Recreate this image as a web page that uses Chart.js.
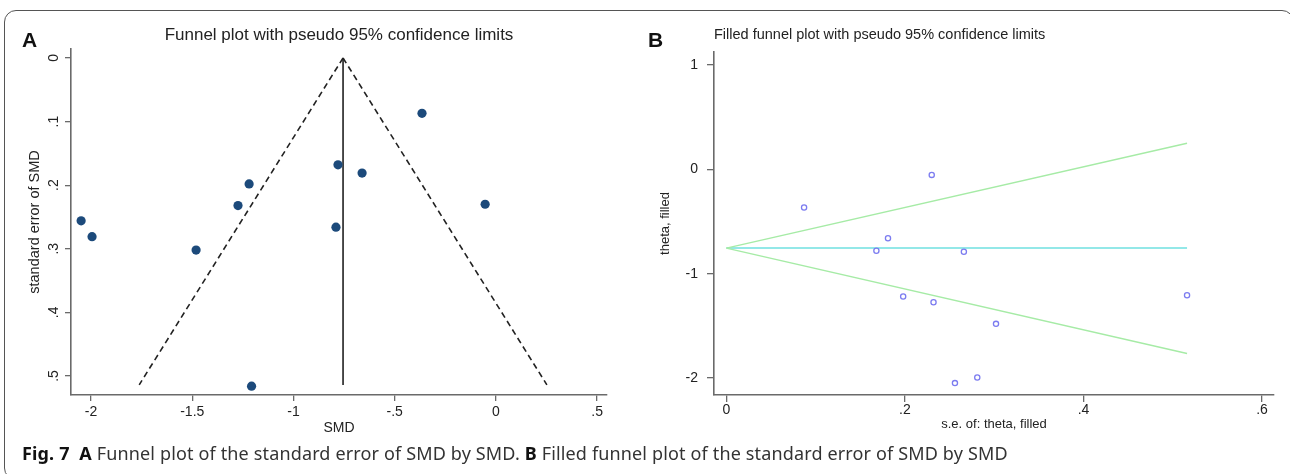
<!DOCTYPE html>
<html>
<head>
<meta charset="utf-8">
<script src="https://cdn.jsdelivr.net/npm/chart.js@4.4.0/dist/chart.umd.min.js"></script>
<style>
  body { margin: 0; background: #fff; width: 1290px; height: 474px; overflow: hidden; position: relative; font-family: "Liberation Sans", Arial, sans-serif; }
  #frame { position: absolute; left: 4px; top: 10px; width: 1290px; height: 470px; border: 1.5px solid #555; border-radius: 12px; box-sizing: border-box; }
  .wrap { position: absolute; top: 0; height: 474px; }
  #wa { left: 0; width: 640px; }
  #wb { left: 640px; width: 650px; }
  .tag { position: absolute; font-weight: bold; font-size: 21px; line-height: 21px; color: #111; }
  #caption { position: absolute; left: 22px; top: 441px; font-family: "Noto Sans"; font-size: 18px; line-height: 24px; color: #333; white-space: nowrap; letter-spacing: 0.15px; }
  #caption b { color: #111; }
</style>
</head>
<body>
<div id="frame"></div>
<div class="wrap" id="wa"><canvas id="chartA" width="640" height="474"></canvas></div>
<div class="wrap" id="wb"><canvas id="chartB" width="650" height="474"></canvas></div>
<div class="tag" style="left:22px;top:29px">A</div>
<div class="tag" style="left:648px;top:29px">B</div>
<div id="caption"><b>Fig. 7</b>&nbsp; <b>A</b> Funnel plot of the standard error of SMD by SMD. <b>B</b> Filled funnel plot of the standard error of SMD by SMD</div>
<script>
// study estimates
const smd   = [-0.365, -0.780, -0.661, -1.219, -1.274, -0.053, -2.049, -1.995, -0.790, -1.481, -1.207];
const seSmd = [0.087, 0.168, 0.181, 0.198, 0.232, 0.230, 0.256, 0.281, 0.266, 0.302, 0.516];

// panel A pseudo 95% limits
const pooled = -0.755;
const limitSe = [0, 0.514];
const lowerLimit = [-0.755, -1.762];
const upperLimit = [-0.755, 0.252];

// panel B filled funnel lines
const fillSe = [0, 0.516];
const fillUpper = [-0.755, 0.25];
const fillLower = [-0.755, -1.765];
const fillMid = [-0.755, -0.755];

// tick labels
const smdTicks = [-2, -1.5, -1, -0.5, 0, 0.5];
const seTicksA = [0, 0.1, 0.2, 0.3, 0.4, 0.5];
const seTicksB = [0, 0.2, 0.4, 0.6];
const thetaTicks = [-2, -1, 0, 1];

const axisGrey = '#6a6a6a';
const textCol = '#222';

function stataFmt(v) {
  return v === 0 ? '0' : String(v).replace('0.', '.');
}
function fixTicks(list) {
  return function (scale) { scale.ticks = list.map(v => ({ value: v })); };
}
function seg(xs, ys) {
  return [{ x: xs[0], y: ys[0] }, { x: xs[1], y: ys[1] }];
}

Chart.defaults.font.family = '"Liberation Sans", Arial, sans-serif';
Chart.defaults.color = textCol;
Chart.defaults.animation = false;

// Panel A
new Chart(document.getElementById('chartA'), {
  type: 'scatter',
  data: {
    datasets: [
      {
        data: smd.map((x, i) => ({ x: x, y: seSmd[i] })),
        pointRadius: 4.6,
        backgroundColor: '#1c4a7b',
        borderColor: '#1c4a7b',
        borderWidth: 0
      },
      { data: seg(lowerLimit, limitSe), showLine: true, pointRadius: 0, borderColor: '#222', borderWidth: 1.6, borderDash: [6, 4] },
      { data: seg(upperLimit, limitSe), showLine: true, pointRadius: 0, borderColor: '#222', borderWidth: 1.6, borderDash: [6, 4] },
      { data: seg([pooled, pooled], limitSe), showLine: true, pointRadius: 0, borderColor: '#222', borderWidth: 1.6 }
    ]
  },
  options: {
    responsive: false,
    layout: { padding: { left: 0, right: 33, top: 0, bottom: 0 } },
    plugins: {
      legend: { display: false },
      tooltip: { enabled: false },
      title: {
        display: true,
        text: 'Funnel plot with pseudo 95% confidence limits',
        fullSize: false,
        color: textCol,
        font: { size: 17, weight: 'normal' },
        padding: { top: 24.8, bottom: 3.8 }
      }
    },
    scales: {
      x: {
        type: 'linear',
        min: -2.099,
        max: 0.549,
        afterBuildTicks: fixTicks(smdTicks),
        afterFit: s => { s.height = 79; },
        grid: { drawOnChartArea: false, drawTicks: true, tickLength: 6, color: axisGrey, lineWidth: 1.3 },
        border: { display: true, color: axisGrey, width: 1.6 },
        ticks: { callback: v => stataFmt(v), font: { size: 14 }, padding: 3, color: textCol, maxRotation: 0, autoSkip: false },
        title: { display: true, text: 'SMD', font: { size: 14 }, color: textCol, padding: { top: 0, bottom: 37.6 } }
      },
      y: {
        type: 'linear',
        reverse: true,
        min: -0.0141,
        max: 0.5299,
        afterBuildTicks: fixTicks(seTicksA),
        afterFit: s => { s.width = 71; },
        grid: { drawOnChartArea: false, drawTicks: true, tickLength: 6, color: axisGrey, lineWidth: 1.3 },
        border: { display: true, color: axisGrey, width: 1.6 },
        ticks: { callback: v => stataFmt(v), font: { size: 14 }, padding: 5, color: textCol, minRotation: 90, maxRotation: 90, crossAlign: 'center', autoSkip: false },
        title: { display: true, text: 'standard error of SMD', font: { size: 14.5 }, color: textCol, padding: { top: 26.3, bottom: 0 } }
      }
    }
  }
});

// Panel B
new Chart(document.getElementById('chartB'), {
  type: 'scatter',
  data: {
    datasets: [
      {
        data: smd.map((y, i) => ({ x: seSmd[i], y: y })),
        pointRadius: 2.6,
        backgroundColor: 'rgba(255,255,255,0)',
        borderColor: '#7c7cf0',
        borderWidth: 1.3
      },
      { data: seg(fillSe, fillUpper), showLine: true, pointRadius: 0, borderColor: '#a6eba6', borderWidth: 1.5 },
      { data: seg(fillSe, fillLower), showLine: true, pointRadius: 0, borderColor: '#a6eba6', borderWidth: 1.5 },
      { data: seg(fillSe, fillMid), showLine: true, pointRadius: 0, borderColor: '#6fe0e0', borderWidth: 1.5 }
    ]
  },
  options: {
    responsive: false,
    layout: { padding: { left: 0, right: 16, top: 0, bottom: 0 } },
    plugins: {
      legend: { display: false },
      tooltip: { enabled: false },
      title: {
        display: true,
        text: 'Filled funnel plot with pseudo 95% confidence limits',
        fullSize: false,
        align: 'start',
        color: textCol,
        font: { size: 14.5, weight: 'normal' },
        padding: { top: 26.3, bottom: 8.3 }
      }
    },
    scales: {
      x: {
        type: 'linear',
        min: -0.0139,
        max: 0.6134,
        afterBuildTicks: fixTicks(seTicksB),
        afterFit: s => { s.height = 79; },
        grid: { drawOnChartArea: false, drawTicks: true, tickLength: 7, color: axisGrey, lineWidth: 1.3 },
        border: { display: true, color: axisGrey, width: 1.6 },
        ticks: { callback: v => stataFmt(v), font: { size: 14 }, padding: 0, color: textCol, maxRotation: 0, autoSkip: false },
        title: { display: true, text: 's.e. of: theta, filled', font: { size: 13 }, color: textCol, padding: { top: 0, bottom: 42.2 } }
      },
      y: {
        type: 'linear',
        min: -2.163,
        max: 1.125,
        afterBuildTicks: fixTicks(thetaTicks),
        afterFit: s => { s.width = 74; },
        grid: { drawOnChartArea: false, drawTicks: true, tickLength: 7, color: axisGrey, lineWidth: 1.3 },
        border: { display: true, color: axisGrey, width: 1.6 },
        ticks: { callback: v => stataFmt(v), font: { size: 14 }, padding: 9, color: textCol, autoSkip: false },
        title: { display: true, text: 'theta, filled', font: { size: 13 }, color: textCol, padding: { top: 17.2, bottom: 0 } }
      }
    }
  }
});
</script>
</body>
</html>
